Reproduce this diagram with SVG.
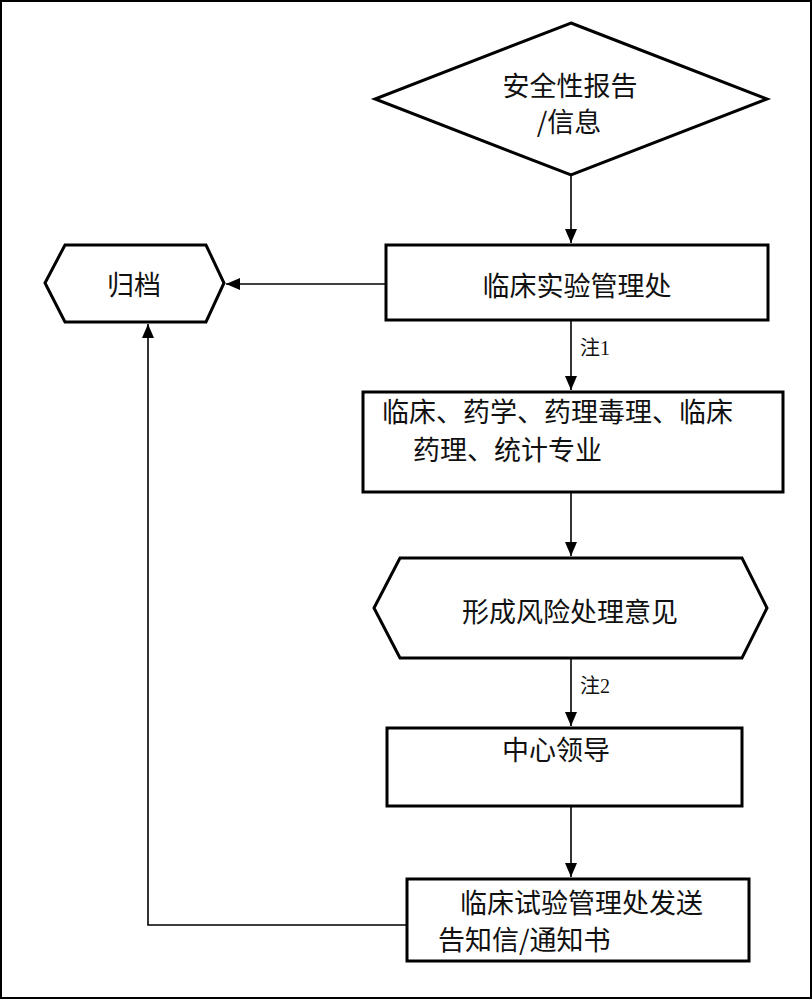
<svg xmlns="http://www.w3.org/2000/svg" width="812" height="1000" viewBox="0 0 812 1000">
<style>
.node{fill:#fff;stroke:#000;stroke-width:3}
.t{font-family:"Noto Sans CJK SC","Noto Sans",sans-serif;font-size:27px;fill:#111;dominant-baseline:central}
.lbl{font-family:"Liberation Serif","Noto Sans CJK SC",serif;font-size:20px;fill:#111;dominant-baseline:central}
.c{fill:none;stroke:#000;stroke-width:1.6}
</style>
<defs>
<marker id="ah" viewBox="0 0 14 12" refX="14" refY="6" markerWidth="14" markerHeight="12" markerUnits="userSpaceOnUse" orient="auto">
<path d="M0,0 L14,6 L0,12 Z" fill="#000"/>
</marker>
</defs>
<rect x="1" y="1" width="810" height="997" fill="#fff" stroke="#000" stroke-width="2"/>
<g id="connectors">
<line class="c" x1="571" y1="176" x2="571" y2="243" marker-end="url(#ah)"/>
<line class="c" x1="386" y1="284" x2="226" y2="284" marker-end="url(#ah)"/>
<line class="c" x1="571" y1="321" x2="571" y2="390" marker-end="url(#ah)"/>
<line class="c" x1="571" y1="493" x2="571" y2="556" marker-end="url(#ah)"/>
<line class="c" x1="571" y1="659" x2="571" y2="726" marker-end="url(#ah)"/>
<line class="c" x1="571" y1="807" x2="571" y2="877" marker-end="url(#ah)"/>
<polyline class="c" points="407,925 148,925 148,324" marker-end="url(#ah)"/>
<text class="lbl" x="580" y="348">注1</text>
<text class="lbl" x="580" y="686">注2</text>
</g>
<g id="n-report">
<polygon class="node" points="571,23 767,99 571,175 375,99"/>
<text class="t" x="570" y="84" text-anchor="middle">安全性报告</text>
<text class="t" x="569" y="120" text-anchor="middle">/信息</text>
</g>
<g id="n-archive">
<polygon class="node" points="45,283 65,245 206,245 224,283 206,322 65,322"/>
<text class="t" x="134" y="283" text-anchor="middle">归档</text>
</g>
<g id="n-office">
<rect class="node" x="386" y="245" width="382" height="75"/>
<text class="t" x="577" y="284" text-anchor="middle">临床实验管理处</text>
</g>
<g id="n-experts">
<rect class="node" x="363" y="392" width="420" height="100"/>
<text class="t" x="382" y="410">临床、药学、药理毒理、临床</text>
<text class="t" x="413" y="448">药理、统计专业</text>
</g>
<g id="n-opinion">
<polygon class="node" points="374,608 400,558 742,558 767,608 742,658 400,658"/>
<text class="t" x="570" y="610" text-anchor="middle">形成风险处理意见</text>
</g>
<g id="n-leader">
<rect class="node" x="387" y="728" width="355" height="78"/>
<text class="t" x="556" y="748" text-anchor="middle">中心领导</text>
</g>
<g id="n-notice">
<rect class="node" x="407" y="879" width="342" height="82"/>
<text class="t" x="460" y="901" font-size="26">临床试验管理处发送</text>
<text class="t" x="438" y="938" font-size="26">告知信/通知书</text>
</g>
</svg>
